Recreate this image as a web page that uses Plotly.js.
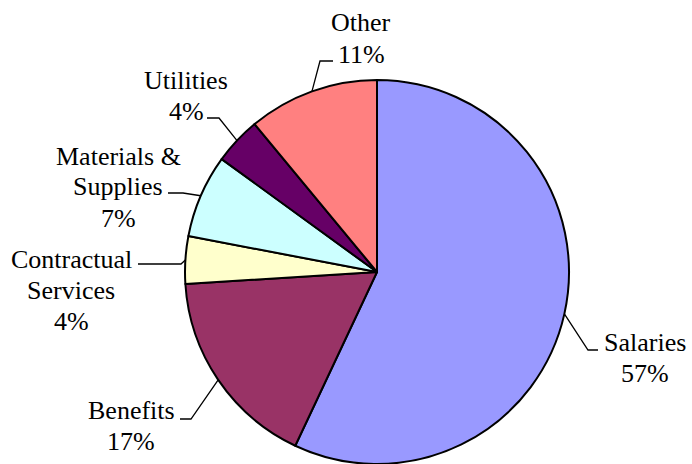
<!DOCTYPE html>
<html>
<head>
<meta charset="utf-8">
<script src="https://cdn.plot.ly/plotly-3.0.1.min.js"></script>
<style>html,body{margin:0;padding:0;background:#fff;}#chart{width:692px;height:464px;}</style>
</head>
<body>
<div id="chart"></div>
<script>
// ---- data ----
const categories = ['Salaries', 'Benefits', 'Contractual Services', 'Materials & Supplies', 'Utilities', 'Other'];
const values = [57, 17, 4, 7, 4, 11];
const labelLines = [['Salaries'], ['Benefits'], ['Contractual', 'Services'], ['Materials &', 'Supplies'], ['Utilities'], ['Other']];

// ---- styles ----
const sliceColors = ['#9999FF', '#993366', '#FFFFCC', '#CCFFFF', '#660066', '#FF8080'];

// ---- layout of labels (pixels) ----
const W = 692, H = 464;
const pie = {cx: 377, cy: 272, r: 192};
const labelLayout = [
  {cx: 645, base: 350, elbow: [588, 350], end: 598},
  {cx: 131, base: 418, elbow: [191, 419], end: 180},
  {cx: 71,  base: 267, elbow: [181, 264], end: 138},
  {cx: 118, base: 164, elbow: [183, 193], end: 168},
  {cx: 186, base: 88,  elbow: [219, 118], end: 207},
  {cx: 361, base: 31,  elbow: [320, 61],  end: 333}
];
const FONT_SIZE = 26, LINE_GAP = 31;

const px = x => x / W;
const py = y => 1 - y / H;

const total = values.reduce((a, b) => a + b, 0);
const annotations = [];
const shapes = [];
let cum = 0;
values.forEach((v, i) => {
  const mid = (cum + v / 2) / total * 2 * Math.PI; // clockwise from 12 o'clock
  cum += v;
  const ex = pie.cx + pie.r * Math.sin(mid);
  const ey = pie.cy - pie.r * Math.cos(mid);
  const L = labelLayout[i];
  const lines = labelLines[i].concat([Math.round(v / total * 100) + '%']);
  lines.forEach((t, k) => {
    annotations.push({
      text: t, xref: 'paper', yref: 'paper',
      x: px(L.cx), y: py(L.base + k * LINE_GAP - 8),
      xanchor: 'center', yanchor: 'middle', showarrow: false,
      font: {family: 'Liberation Serif', size: FONT_SIZE, color: '#000'}
    });
  });
  shapes.push({
    type: 'path', xref: 'paper', yref: 'paper',
    path: `M ${px(ex)},${py(ey)} L ${px(L.elbow[0])},${py(L.elbow[1])} L ${px(L.end)},${py(L.elbow[1])}`,
    line: {color: '#000', width: 1.3}
  });
});

const trace = {
  type: 'pie',
  labels: categories,
  values: values,
  sort: false,
  direction: 'clockwise',
  rotation: 0,
  textinfo: 'none',
  hoverinfo: 'label+percent',
  marker: {colors: sliceColors, line: {color: '#000', width: 2}},
  domain: {x: [(pie.cx - pie.r) / W, (pie.cx + pie.r) / W], y: [1 - (pie.cy + pie.r) / H, 1 - (pie.cy - pie.r) / H]},
  showlegend: false
};

Plotly.newPlot('chart', [trace], {
  width: W, height: H,
  margin: {l: 0, r: 0, t: 0, b: 0},
  paper_bgcolor: '#fff',
  font: {family: 'Liberation Serif'},
  showlegend: false,
  annotations: annotations,
  shapes: shapes
}, {staticPlot: true});
</script>
</body>
</html>
